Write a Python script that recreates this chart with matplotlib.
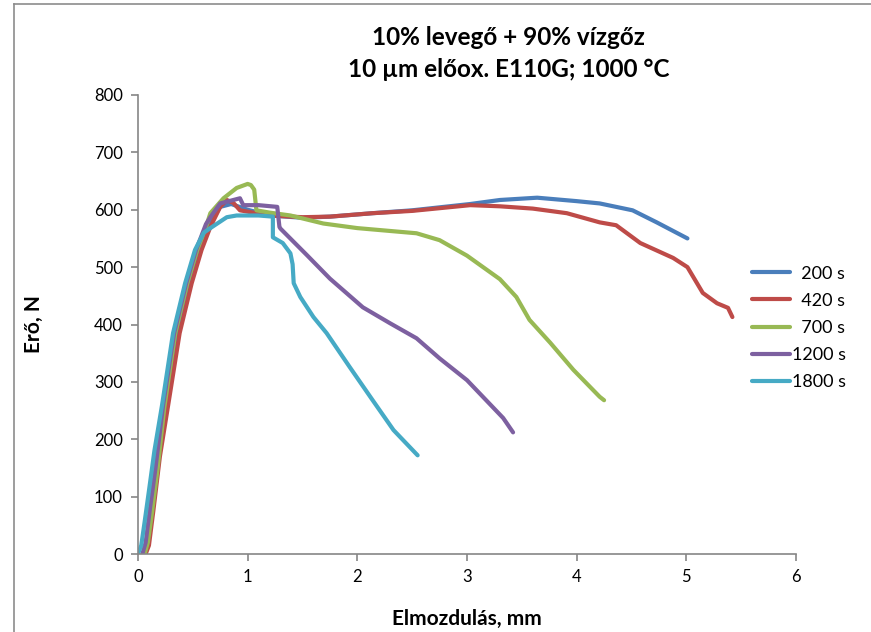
import matplotlib
matplotlib.use("Agg")
import matplotlib.pyplot as plt
from matplotlib.lines import Line2D

plt.rcParams['font.family'] = ['Lato', 'DejaVu Sans']

title = "10% levegő + 90% vízgőz\n10 µm előox. E110G; 1000 °C"
x_label = "Elmozdulás, mm"
y_label = "Erő, N"

# displacement (mm) / force (N), one pair of lists per curve
x_200 = [0.05, 0.08, 0.12, 0.17, 0.25, 0.35, 0.46, 0.55, 0.65, 0.75, 0.85, 1.00, 1.20, 1.50,
         1.75, 2.14, 2.50, 3.03, 3.30, 3.64, 4.00, 4.21, 4.51, 4.73, 5.01]
y_200 = [0, 20, 80, 150, 260, 385, 472, 530, 575, 605, 610, 600, 590, 586,
         588, 594, 599, 610, 617, 621, 615, 611, 599, 578, 550]

x_420 = [0.07, 0.10, 0.14, 0.20, 0.28, 0.38, 0.49, 0.58, 0.66, 0.75, 0.81, 0.87, 0.93,
         1.20, 1.50, 1.75, 2.14, 2.50, 3.03, 3.30, 3.60, 3.91, 4.21, 4.36, 4.58,
         4.88, 5.01, 5.15, 5.28, 5.38, 5.42]
y_420 = [0, 15, 75, 170, 265, 385, 472, 530, 570, 605, 617, 612, 599,
         590, 587, 588, 594, 598, 608, 606, 602, 594, 578, 573, 542,
         516, 500, 455, 437, 429, 413]

x_700 = [0.06, 0.09, 0.13, 0.18, 0.24, 0.34, 0.45, 0.54, 0.62, 0.66, 0.78, 0.90, 1.00, 1.03,
         1.06, 1.08, 1.20, 1.39, 1.69, 2.00, 2.30, 2.54, 2.75, 3.00, 3.30, 3.45,
         3.57, 3.76, 3.97, 4.21, 4.25]
y_700 = [0, 20, 75, 150, 255, 385, 472, 530, 570, 594, 620, 638, 645, 643,
         635, 599, 595, 590, 576, 568, 563, 559, 547, 520, 479, 448,
         408, 368, 321, 274, 268]

x_1200 = [0.04, 0.07, 0.11, 0.16, 0.23, 0.33, 0.44, 0.53, 0.62, 0.66, 0.75, 0.93, 0.96, 1.10,
          1.27, 1.29, 1.30, 1.54, 1.75, 1.84, 2.05, 2.30, 2.54, 2.75, 3.00, 3.33, 3.42]
y_1200 = [0, 20, 80, 150, 260, 385, 472, 530, 575, 587, 611, 620, 608, 608,
          605, 570, 567, 521, 480, 465, 430, 402, 376, 341, 303, 237, 212]

x_1800 = [0.00, 0.03, 0.06, 0.10, 0.15, 0.22, 0.32, 0.43, 0.52, 0.60, 0.66, 0.81, 0.90, 1.10,
          1.23, 1.23, 1.32, 1.39, 1.41, 1.42, 1.48, 1.60, 1.72, 1.93, 2.14, 2.33, 2.55]
y_1800 = [0, 15, 55, 110, 180, 260, 385, 472, 530, 560, 568, 587, 590, 590,
          588, 552, 542, 524, 505, 472, 448, 413, 385, 326, 268, 216, 172]

series = [("200 s", x_200, y_200, "#4a7ebb"),
          ("420 s", x_420, y_420, "#be4b48"),
          ("700 s", x_700, y_700, "#98b954"),
          ("1200 s", x_1200, y_1200, "#7d60a0"),
          ("1800 s", x_1800, y_1800, "#46aac5")]

fig = plt.figure(figsize=(8.71, 6.32), dpi=100)
ax = fig.add_axes([0.1584, 0.1234, 0.7555, 0.7263])

for name, xs, ys, col in series:
    # pad short labels so the numbers line up on the right like the original
    lab = name if len(name) > 5 else "  " + name
    ax.plot(xs, ys, color=col, lw=3, label=lab, solid_capstyle='round',
            solid_joinstyle='round')

ax.set_xlim(0, 6)
ax.set_ylim(0, 800)
ax.set_xticks(range(0, 7))
ax.set_yticks(range(0, 801, 100))
for side in ('top', 'right'):
    ax.spines[side].set_visible(False)
for side in ('left', 'bottom'):
    ax.spines[side].set_color('#868686')
    ax.spines[side].set_linewidth(1.2)
ax.tick_params(direction='out', length=5, width=1.2, color='#868686',
               labelsize=12, pad=6)

ax.set_xlabel(x_label, fontsize=15, fontweight='bold', labelpad=17)
ax.set_ylabel(y_label, fontsize=15, fontweight='bold', labelpad=36)
fig.text(0.584, 0.915, title, ha='center', va='center', fontsize=17.5,
         fontweight='bold', linespacing=1.5)

fig.legend(loc='center left', bbox_to_anchor=(0.863, 0.481), frameon=False,
           fontsize=13, handlelength=2.1, handletextpad=0.15,
           labelspacing=0.62, borderpad=0, borderaxespad=0)

# outer chart frame (only top and left edges are visible in the crop)
fig.add_artist(Line2D([14 / 871, 14 / 871], [0, 1 - 4 / 632], transform=fig.transFigure,
                      color='#8c8c8c', lw=1.2))
fig.add_artist(Line2D([14 / 871, 1], [1 - 4 / 632, 1 - 4 / 632], transform=fig.transFigure,
                      color='#8c8c8c', lw=1.2))

fig.savefig("out.png", dpi=100)
